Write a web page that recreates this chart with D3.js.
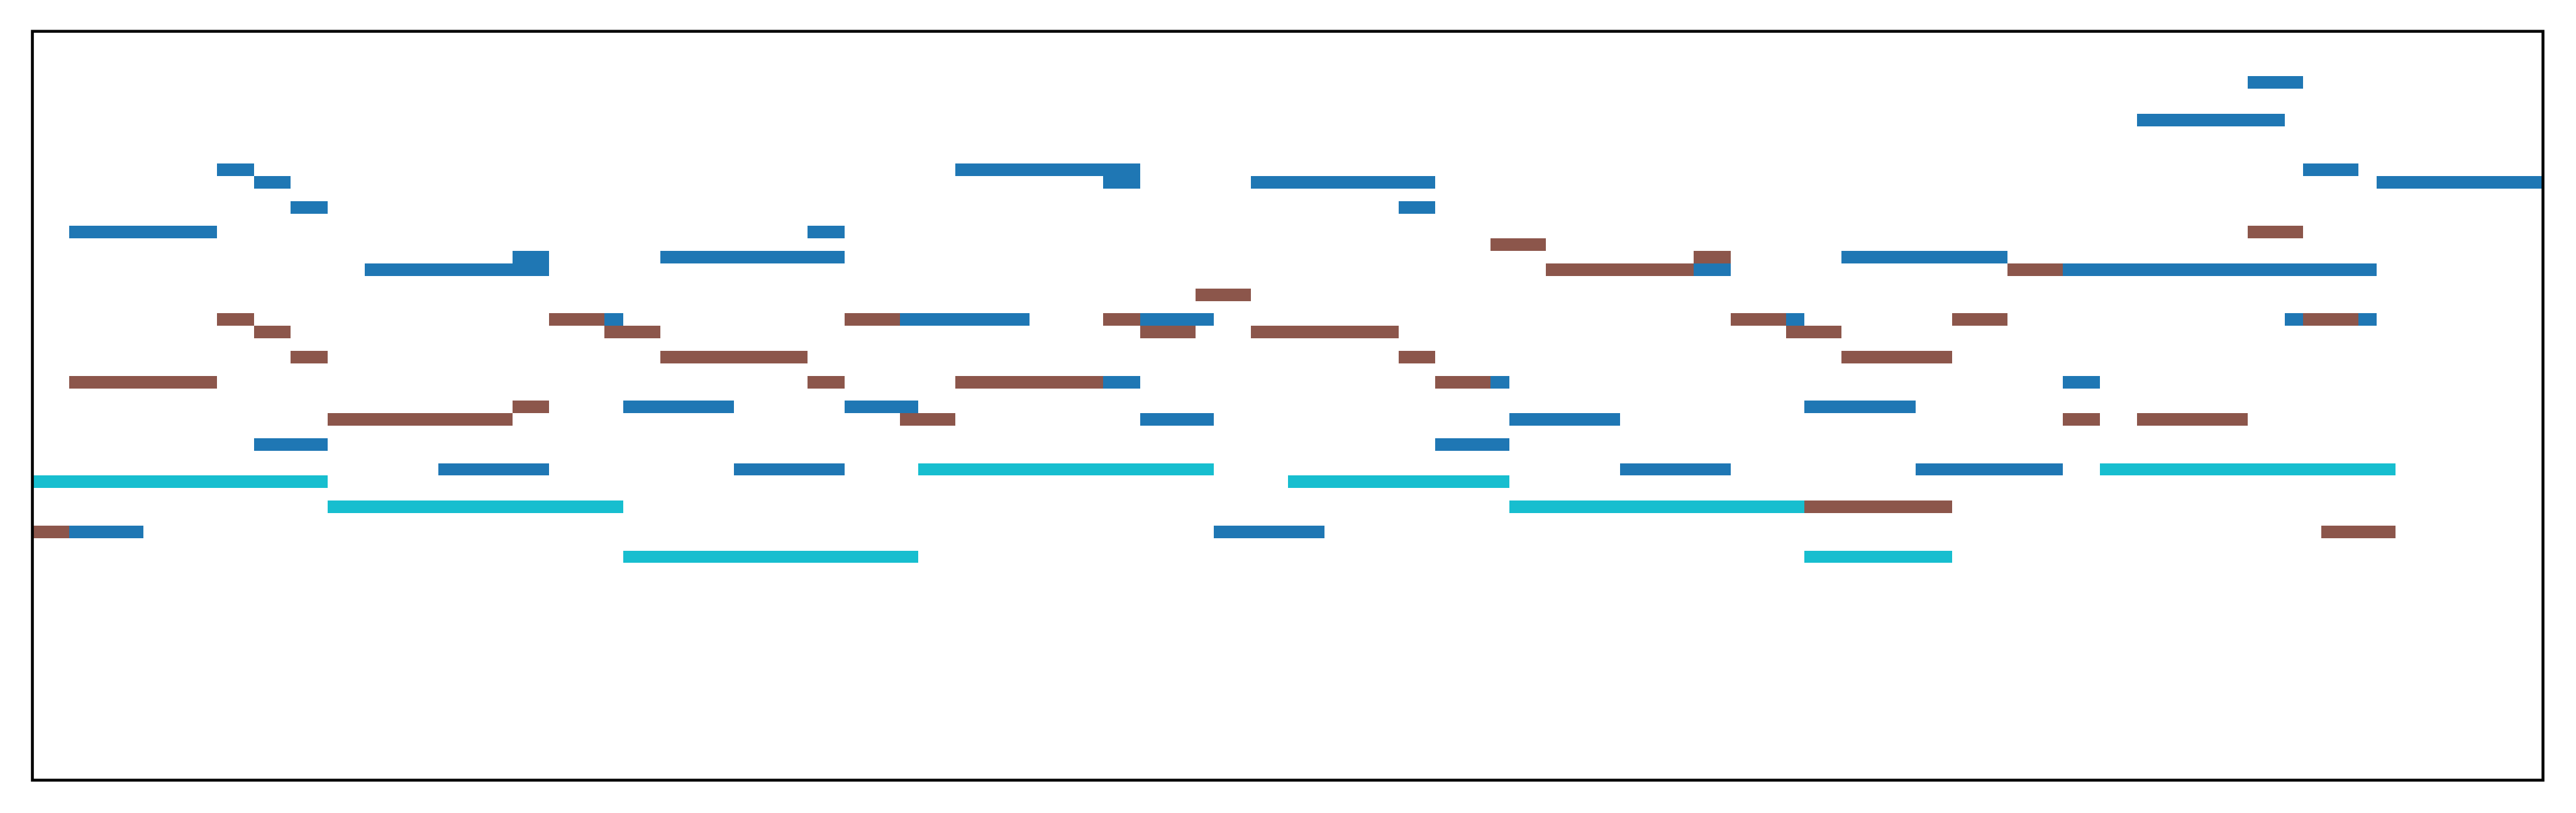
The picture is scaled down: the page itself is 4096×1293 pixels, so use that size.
<!DOCTYPE html>
<html>
<head>
<meta charset="utf-8">
<script src="https://cdn.jsdelivr.net/npm/d3@7"></script>
<style>
html, body { margin: 0; padding: 0; background: #fff; }
svg { display: block; }
</style>
</head>
<body>
<svg id="chart" width="4096" height="1293"></svg>
<script>
// Each note: [start, end, pitch]  (time in beats, pitch in semitones)
const track1Notes = [
  [60, 61.5, 86],
  [57, 61, 83],
  [5, 6, 79], [25, 30, 79], [61.5, 63, 79],
  [6, 7, 78], [29, 30, 78], [33, 38, 78], [63.5, 68, 78],
  [7, 8, 76], [37, 38, 76],
  [1, 5, 74], [21, 22, 74],
  [13, 14, 72], [17, 22, 72], [49, 53.5, 72],
  [9, 14, 71], [45, 46, 71], [55, 63.5, 71],
  [15.5, 16, 67], [23.5, 27, 67], [30, 32, 67], [47.5, 48, 67], [61, 61.5, 67], [63, 63.5, 67],
  [29, 30, 62], [39.5, 40, 62], [55, 56, 62],
  [16, 19, 60], [22, 24, 60], [48, 51, 60],
  [30, 32, 59], [40, 43, 59],
  [6, 8, 57], [38, 40, 57],
  [11, 14, 55], [19, 22, 55], [43, 46, 55], [51, 55, 55],
  [1, 3, 50], [32, 35, 50]
];
const track2Notes = [
  [60, 61.5, 74],
  [39.5, 41, 73],
  [45, 46, 72],
  [41, 45, 71], [53.5, 55, 71],
  [31.5, 33, 69],
  [5, 6, 67], [14, 15.5, 67], [22, 23.5, 67], [29, 30, 67], [46, 47.5, 67], [52, 53.5, 67], [61.5, 63, 67],
  [6, 7, 66], [15.5, 17, 66], [30, 31.5, 66], [33, 37, 66], [47.5, 49, 66],
  [7, 8, 64], [17, 21, 64], [37, 38, 64], [49, 52, 64],
  [1, 5, 62], [21, 22, 62], [25, 29, 62], [38, 39.5, 62],
  [13, 14, 60],
  [8, 13, 59], [23.5, 25, 59], [55, 56, 59], [57, 60, 59],
  [48, 52, 52],
  [0, 1, 50], [62, 64, 50]
];
const track3Notes = [
  [24, 32, 55], [56, 64, 55],
  [0, 8, 54], [34, 40, 54],
  [8, 16, 52], [40, 48, 52],
  [16, 24, 48], [48, 52, 48]
];
const tracks = [
  { name: "track1", notes: track1Notes, color: "#1f77b4" },
  { name: "track2", notes: track2Notes, color: "#8c564b" },
  { name: "track3", notes: track3Notes, color: "#17becf" }
];
const timeDomain = [0, 68];
const pitchDomain = [30.1, 90.1];

const W = 4096, H = 1293;
const margin = { left: 51.5, right: W - 4043.5, top: 49.8, bottom: H - 1240.8 };

const svg = d3.select("#chart");
const x = d3.scaleLinear().domain(timeDomain).range([margin.left, W - margin.right]);
const y = d3.scaleLinear().domain(pitchDomain).range([H - margin.bottom, margin.top]);

const g = svg.append("g");
tracks.forEach(tr => {
  g.append("g").attr("class", tr.name)
    .selectAll("rect").data(tr.notes).join("rect")
    .attr("x", d => x(d[0]))
    .attr("width", d => x(d[1]) - x(d[0]))
    .attr("y", d => y(d[2] + 0.5))
    .attr("height", d => y(d[2] - 0.5) - y(d[2] + 0.5))
    .attr("fill", tr.color)
    .attr("shape-rendering", "crispEdges");
});

// frame
svg.append("rect")
  .attr("x", x(timeDomain[0]))
  .attr("y", y(pitchDomain[1]))
  .attr("width", x(timeDomain[1]) - x(timeDomain[0]))
  .attr("height", y(pitchDomain[0]) - y(pitchDomain[1]))
  .attr("fill", "none")
  .attr("stroke", "#000")
  .attr("stroke-width", 4.6);
</script>
</body>
</html>
